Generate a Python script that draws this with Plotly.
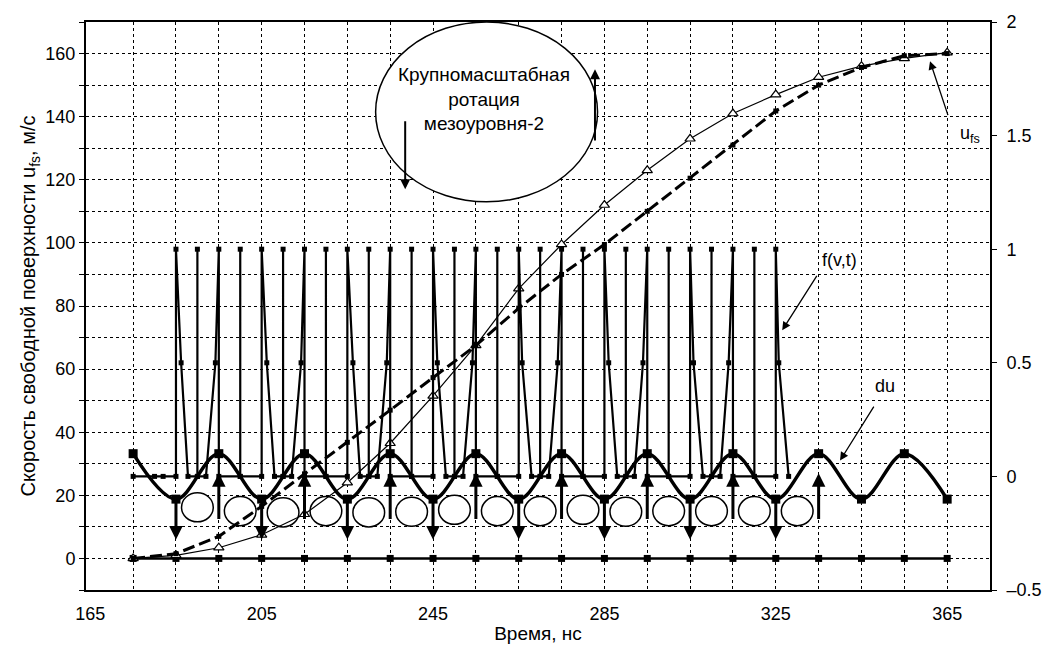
import plotly.graph_objects as go

# ---------------- data ----------------
t = [175, 185, 195, 205, 215, 225, 235, 245, 255, 265,
     275, 285, 295, 305, 315, 325, 335, 345, 355, 365]
base = [0, 0, 0, 0, 0, 0, 0, 0, 0, 0,
        0, 0, 0, 0, 0, 0, 0, 0, 0, 0]
du = [0.1, -0.1, 0.1, -0.1, 0.1, -0.1, 0.1, -0.1, 0.1, -0.1,
      0.1, -0.1, 0.1, -0.1, 0.1, -0.1, 0.1, -0.1, 0.1, -0.1]
ufs = [0, 1, 3.4, 7.5, 14, 24, 36.5, 51.5, 67.5, 85.5,
       99.5, 112, 123, 133, 141, 147, 152.5, 156, 158.5, 160.3]
ufs_dashed = [0, 1.5, 7, 16.5, 26.8, 36.8, 47, 57.3, 67.5, 79.3,
              90, 99.5, 110, 120.5, 131, 141.8, 150, 155.6, 159.3, 160]

f_t = [175, 180, 182,
       185, 185, 186.2, 187.8, 190, 190, 190, 192, 194.2, 195, 195, 200, 200, 200,
       205, 205, 206.2, 208, 210, 210, 210, 212, 214.2, 215, 215, 220, 220, 220,
       225, 225, 226.3, 228, 230, 230, 230, 232, 234.2, 235, 235, 240, 240, 240,
       245, 245, 246, 248, 250, 250, 250, 252, 254.2, 255, 255, 260, 260, 260,
       265, 265, 265.8, 268, 270, 270, 270, 272, 274.1, 275, 275, 280, 280, 280,
       285, 285, 286, 288, 290, 290, 290, 292, 294, 295, 295, 300, 300, 300,
       305, 305, 305.8, 308, 310, 310, 310, 312, 314, 315, 315, 320, 320, 320,
       325, 325, 325.7, 328]
f_v = [0, 0, 0,
       0, 1, 0.5, 0, 0, 1, 0, 0, 0.5, 1, 0, 0, 1, 0,
       0, 1, 0.5, 0, 0, 1, 0, 0, 0.5, 1, 0, 0, 1, 0,
       0, 1, 0.5, 0, 0, 1, 0, 0, 0.5, 1, 0, 0, 1, 0,
       0, 1, 0.5, 0, 0, 1, 0, 0, 0.5, 1, 0, 0, 1, 0,
       0, 1, 0.5, 0, 0, 1, 0, 0, 0.5, 1, 0, 0, 1, 0,
       0, 1, 0.5, 0, 0, 1, 0, 0, 0.5, 1, 0, 0, 1, 0,
       0, 1, 0.5, 0, 0, 1, 0, 0, 0.5, 1, 0, 0, 1, 0,
       0, 1, 0.5, 0]

# small rotation cells (centres, left-axis units)
cell_t = [190, 200, 210, 220, 230, 240, 250, 260, 270, 280, 290, 300, 310, 320, 330]
cell_y = [16.2, 15, 14.6, 15, 14.6, 14.8, 15.4, 15, 15, 15.4, 14.8, 15, 15, 15, 15]

# vertical arrows (left-axis units)
down_t = [185, 205, 225, 245, 265, 285, 305, 325]
down_from, down_to = 19, 6
up_t = [195, 215, 235, 255, 275, 295, 315, 335]
up_from, up_to = 12, 27

x_ticks = [165, 205, 245, 285, 325, 365]
x_grid = t
y2_ticks = [-0.5, 0, 0.5, 1, 1.5, 2]

FONT = "Liberation Sans, Arial, sans-serif"
BLACK = "#000000"

fig = go.Figure()

fig.add_trace(go.Scatter(x=f_t, y=f_v, yaxis="y2", mode="lines+markers",
                         line=dict(color=BLACK, width=2.2),
                         marker=dict(symbol="square", size=5, color=BLACK),
                         name="f(v,t)"))
fig.add_trace(go.Scatter(x=t, y=base, mode="lines+markers",
                         line=dict(color=BLACK, width=2.5),
                         marker=dict(symbol="square", size=7, color=BLACK),
                         name="base"))
fig.add_trace(go.Scatter(x=t, y=du, yaxis="y2", mode="lines+markers",
                         line=dict(color=BLACK, width=3.5, shape="spline", smoothing=1.0),
                         marker=dict(symbol="square", size=9, color=BLACK),
                         name="du"))
fig.add_trace(go.Scatter(x=t, y=ufs, mode="lines+markers",
                         line=dict(color=BLACK, width=1.2),
                         marker=dict(symbol="triangle-up", size=9, color="white",
                                     line=dict(color=BLACK, width=1.2)),
                         name="ufs"))
fig.add_trace(go.Scatter(x=t, y=ufs_dashed, mode="lines+markers",
                         line=dict(color=BLACK, width=3, dash="12px,5px"),
                         marker=dict(symbol="square", size=5, color=BLACK),
                         name="ufs2"))

shapes = []
for ct, cy in zip(cell_t, cell_y):
    shapes.append(dict(type="circle", xref="x", yref="y",
                       x0=ct - 3.7, x1=ct + 3.7, y0=cy - 4.6, y1=cy + 4.6,
                       line=dict(color=BLACK, width=1.5), fillcolor="white",
                       layer="between"))
# big ellipse
shapes.append(dict(type="circle", xref="x", yref="y",
                   x0=231.6, x1=283.4, y0=113, y1=170,
                   line=dict(color=BLACK, width=1.5), fillcolor="white",
                   layer="between"))

annotations = []
for tt in down_t:
    annotations.append(dict(x=tt, y=down_to, ax=tt, ay=down_from, xref="x", yref="y",
                            axref="x", ayref="y", text="", showarrow=True,
                            arrowhead=2, arrowsize=0.9, arrowwidth=3,
                            arrowcolor=BLACK, standoff=0))
for tt in up_t:
    annotations.append(dict(x=tt, y=up_to, ax=tt, ay=up_from, xref="x", yref="y",
                            axref="x", ayref="y", text="", showarrow=True,
                            arrowhead=2, arrowsize=0.9, arrowwidth=3,
                            arrowcolor=BLACK, standoff=0))
# arrows by the big ellipse
annotations.append(dict(x=238.5, y=117, ax=238.5, ay=139, xref="x", yref="y",
                        axref="x", ayref="y", text="", showarrow=True,
                        arrowhead=2, arrowsize=1, arrowwidth=2, arrowcolor=BLACK, standoff=0))
annotations.append(dict(x=282.8, y=155, ax=282.8, ay=132, xref="x", yref="y",
                        axref="x", ayref="y", text="", showarrow=True,
                        arrowhead=2, arrowsize=1, arrowwidth=2, arrowcolor=BLACK, standoff=0))
annotations.append(dict(x=257, y=145.5, xref="x", yref="y", showarrow=False,
                        text="Крупномасштабная<br>ротация<br>мезоуровня-2",
                        font=dict(family=FONT, size=19, color=BLACK)))
# labels with pointers
annotations.append(dict(x=326.5, y=72.3, ax=334.8, ay=90, xref="x", yref="y",
                        axref="x", ayref="y", text="", showarrow=True,
                        arrowhead=2, arrowsize=1.3, arrowwidth=1.3, arrowcolor=BLACK, standoff=0))
annotations.append(dict(x=339.8, y=94.5, xref="x", yref="y", showarrow=False,
                        text="f(v,t)", font=dict(family=FONT, size=18, color=BLACK)))
annotations.append(dict(x=340, y=31, ax=348.1, ay=48.6, xref="x", yref="y",
                        axref="x", ayref="y", text="", showarrow=True,
                        arrowhead=2, arrowsize=1.3, arrowwidth=1.3, arrowcolor=BLACK, standoff=0))
annotations.append(dict(x=350.6, y=54.5, xref="x", yref="y", showarrow=False,
                        text="du", font=dict(family=FONT, size=18, color=BLACK)))
annotations.append(dict(x=361, y=157.6, ax=365.3, ay=140, xref="x", yref="y",
                        axref="x", ayref="y", text="", showarrow=True,
                        arrowhead=2, arrowsize=1.3, arrowwidth=1.3, arrowcolor=BLACK, standoff=0))
annotations.append(dict(x=370.3, y=134.5, xref="x", yref="y", showarrow=False,
                        text="u<sub>fs</sub>", font=dict(family=FONT, size=18, color=BLACK)))

grid = dict(gridcolor=BLACK, gridwidth=1, griddash="dot")

fig.update_layout(
    width=1054, height=653,
    margin=dict(l=86, r=59, t=12, b=60),
    paper_bgcolor="white", plot_bgcolor="white",
    showlegend=False,
    font=dict(family=FONT, size=18, color=BLACK),
    shapes=shapes, annotations=annotations,
    xaxis=dict(range=[164, 375], tickmode="array", tickvals=x_ticks,
               ticks="", showgrid=False, ticklabelstandoff=6,
               tickfont=dict(size=18),
               minor=dict(tickmode="array", tickvals=x_grid, ticks="",
                          showgrid=True, **grid),
               showline=True, linecolor=BLACK, linewidth=2, mirror=True,
               zeroline=False,
               title=dict(text="Время, нс", standoff=4,
                          font=dict(family=FONT, size=19))),
    yaxis=dict(range=[-10, 170], tick0=0, dtick=20, tickmode="linear",
               ticks="outside", ticklen=5, tickcolor=BLACK, tickwidth=1,
               tickfont=dict(size=18),
               showgrid=True, **grid,
               minor=dict(dtick=10, tick0=0, ticks="outside", ticklen=5,
                          tickcolor=BLACK, showgrid=True, **grid),
               showline=True, linecolor=BLACK, linewidth=2, zeroline=False,
               title=dict(text="Скорость свободной поверхности u<sub>fs</sub>, м/с",
                          standoff=4, font=dict(family=FONT, size=20))),
    yaxis2=dict(range=[-0.5, 2], overlaying="y", side="right",
                tickmode="array", tickvals=y2_ticks,
                ticktext=["–0.5", "0", "0.5", "1", "1.5", "2"],
                tickfont=dict(size=18), ticklabelstandoff=6,
                ticks="outside", ticklen=5, tickcolor=BLACK,
                showgrid=False, zeroline=False,
                showline=True, linecolor=BLACK, linewidth=2),
)

fig.write_html("out.html")
